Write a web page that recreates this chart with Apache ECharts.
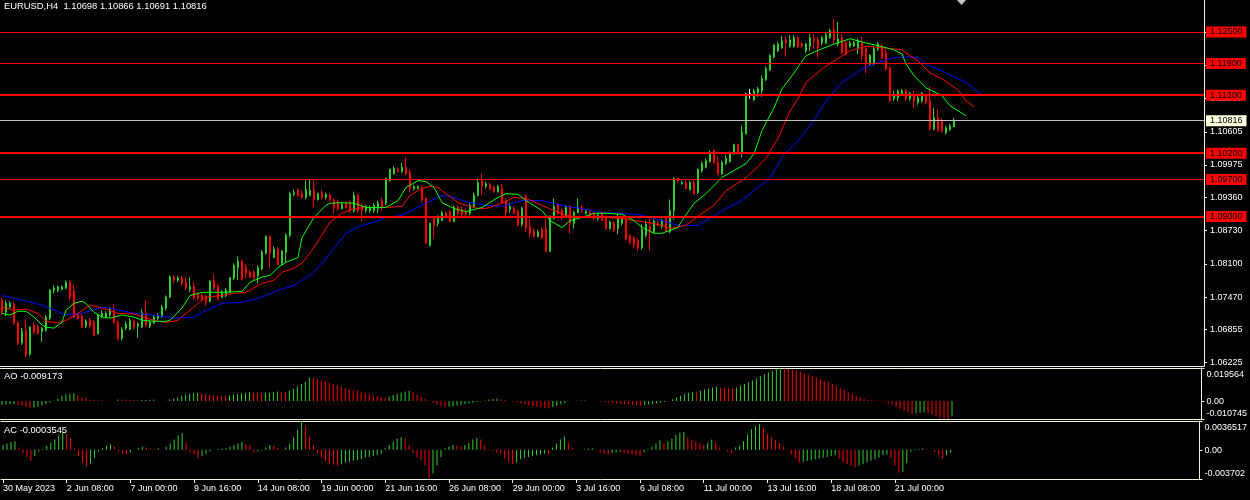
<!DOCTYPE html>
<html><head><meta charset="utf-8">
<script src="https://cdn.jsdelivr.net/npm/echarts@6/dist/echarts.min.js"></script>
<style>html,body{margin:0;padding:0;background:#000;}#c{width:1250px;height:500px;}</style>
</head><body><div id="c"></div>
<script>
// ---------- data ----------
const tickLabels = ['30 May 2023','2 Jun 08:00','7 Jun 00:00','9 Jun 16:00','14 Jun 08:00','19 Jun 00:00','21 Jun 16:00','26 Jun 08:00','29 Jun 00:00','3 Jul 16:00','6 Jul 08:00','11 Jul 00:00','13 Jul 16:00','18 Jul 08:00','21 Jul 00:00'];
const priceTicks = [1.06225,1.06855,1.0747,1.081,1.0873,1.0936,1.09975,1.10605,1.11235,1.11865,1.12495];
const levels = [1.125,1.119,1.113,1.102,1.097,1.09];
const levelWidths = [1,1,2,2,1,2];
const currentPrice = 1.10816;
const aoTicks = [0.019564, 0, -0.010745];
const acTicks = [0.0036517, 0, -0.003702];
// [open, high, low, close]
const candles = [
[1.0741,1.0745,1.0713,1.0718],[1.0718,1.0741,1.0711,1.0735],[1.0728,1.0739,1.0724,1.0735],[1.0733,1.0737,1.0694,1.0698],
[1.0698,1.0701,1.0656,1.0660],[1.0660,1.0688,1.0656,1.0682],[1.0684,1.0705,1.0633,1.0637],[1.0639,1.0692,1.0635,1.0690],
[1.0694,1.0698,1.0677,1.0681],[1.0690,1.0694,1.0675,1.0679],[1.0681,1.0690,1.0662,1.0688],[1.0684,1.0713,1.0681,1.0709],
[1.0707,1.0762,1.0703,1.0760],[1.0760,1.0769,1.0754,1.0764],[1.0760,1.0769,1.0756,1.0766],[1.0762,1.0769,1.0760,1.0766],
[1.0764,1.0779,1.0762,1.0775],[1.0775,1.0777,1.0741,1.0747],[1.0758,1.0771,1.0707,1.0709],[1.0713,1.0715,1.0703,1.0707],
[1.0711,1.0715,1.0688,1.0690],[1.0692,1.0705,1.0688,1.0701],[1.0703,1.0707,1.0688,1.0692],[1.0699,1.0703,1.0673,1.0675],
[1.0677,1.0715,1.0676,1.0713],[1.0711,1.0722,1.0707,1.0716],[1.0709,1.0720,1.0707,1.0716],[1.0713,1.0728,1.0709,1.0724],
[1.0722,1.0733,1.0697,1.0698],[1.0699,1.0703,1.0665,1.0669],[1.0669,1.0690,1.0665,1.0686],[1.0688,1.0701,1.0684,1.0696],
[1.0686,1.0707,1.0684,1.0703],[1.0701,1.0703,1.0686,1.0690],[1.0692,1.0699,1.0669,1.0696],[1.0690,1.0724,1.0688,1.0716],
[1.0716,1.0741,1.0690,1.0694],[1.0692,1.0703,1.0688,1.0699],[1.0698,1.0713,1.0696,1.0709],[1.0707,1.0716,1.0703,1.0713],
[1.0711,1.0732,1.0707,1.0728],[1.0726,1.0750,1.0722,1.0747],[1.0747,1.0788,1.0745,1.0785],[1.0785,1.0788,1.0773,1.0779],
[1.0779,1.0787,1.0775,1.0783],[1.0783,1.0787,1.0769,1.0773],[1.0775,1.0785,1.0760,1.0764],[1.0762,1.0785,1.0756,1.0767],
[1.0767,1.0775,1.0741,1.0745],[1.0752,1.0756,1.0741,1.0745],[1.0750,1.0754,1.0741,1.0743],[1.0747,1.0750,1.0731,1.0737],
[1.0739,1.0779,1.0737,1.0777],[1.0777,1.0790,1.0760,1.0764],[1.0767,1.0771,1.0741,1.0743],[1.0747,1.0760,1.0745,1.0756],
[1.0750,1.0764,1.0747,1.0760],[1.0756,1.0785,1.0754,1.0783],[1.0783,1.0811,1.0779,1.0807],[1.0803,1.0824,1.0779,1.0815],
[1.0815,1.0817,1.0779,1.0781],[1.0803,1.0809,1.0783,1.0792],[1.0794,1.0798,1.0783,1.0785],[1.0794,1.0798,1.0779,1.0783],
[1.0788,1.0807,1.0773,1.0803],[1.0800,1.0836,1.0798,1.0832],[1.0830,1.0864,1.0828,1.0862],[1.0862,1.0864,1.0802,1.0830],
[1.0822,1.0843,1.0821,1.0838],[1.0838,1.0841,1.0807,1.0809],[1.0811,1.0836,1.0807,1.0834],[1.0832,1.0868,1.0813,1.0864],
[1.0864,1.0947,1.0860,1.0943],[1.0942,1.0951,1.0938,1.0945],[1.0949,1.0953,1.0938,1.0940],[1.0943,1.0949,1.0934,1.0936],
[1.0936,1.0968,1.0932,1.0951],[1.0940,1.0970,1.0938,1.0949],[1.0951,1.0970,1.0917,1.0932],[1.0932,1.0945,1.0930,1.0943],
[1.0945,1.0949,1.0932,1.0936],[1.0936,1.0945,1.0932,1.0942],[1.0940,1.0943,1.0928,1.0932],[1.0930,1.0934,1.0906,1.0917],
[1.0928,1.0932,1.0911,1.0915],[1.0915,1.0926,1.0913,1.0923],[1.0925,1.0928,1.0915,1.0917],[1.0925,1.0930,1.0906,1.0911],
[1.0911,1.0947,1.0907,1.0940],[1.0940,1.0943,1.0907,1.0911],[1.0921,1.0925,1.0891,1.0911],[1.0911,1.0921,1.0907,1.0919],
[1.0911,1.0921,1.0907,1.0917],[1.0911,1.0925,1.0907,1.0921],[1.0915,1.0930,1.0906,1.0925],[1.0930,1.0936,1.0911,1.0917],
[1.0925,1.0974,1.0921,1.0972],[1.0968,1.0991,1.0966,1.0989],[1.0981,1.0995,1.0979,1.0991],[1.0989,1.0993,1.0983,1.0985],
[1.0985,1.1002,1.0983,1.0993],[1.0993,1.1012,1.0978,1.0981],[1.0983,1.0989,1.0945,1.0953],[1.0953,1.0960,1.0949,1.0957],
[1.0953,1.0958,1.0951,1.0957],[1.0955,1.0958,1.0926,1.0932],[1.0934,1.0936,1.0847,1.0849],[1.0845,1.0888,1.0843,1.0887],
[1.0896,1.0900,1.0860,1.0883],[1.0887,1.0902,1.0881,1.0896],[1.0892,1.0911,1.0891,1.0907],[1.0906,1.0909,1.0896,1.0900],
[1.0909,1.0913,1.0889,1.0891],[1.0891,1.0921,1.0889,1.0917],[1.0917,1.0921,1.0902,1.0907],[1.0913,1.0919,1.0900,1.0904],
[1.0909,1.0915,1.0898,1.0904],[1.0906,1.0925,1.0902,1.0921],[1.0919,1.0945,1.0917,1.0940],[1.0940,1.0972,1.0938,1.0964],
[1.0968,1.0981,1.0940,1.0957],[1.0957,1.0966,1.0953,1.0962],[1.0960,1.0964,1.0949,1.0953],[1.0955,1.0958,1.0945,1.0947],
[1.0947,1.0960,1.0945,1.0957],[1.0953,1.0962,1.0924,1.0926],[1.0930,1.0934,1.0896,1.0907],[1.0913,1.0925,1.0907,1.0919],
[1.0915,1.0919,1.0904,1.0906],[1.0909,1.0913,1.0881,1.0883],[1.0885,1.0919,1.0881,1.0915],[1.0938,1.0942,1.0870,1.0879],
[1.0881,1.0896,1.0860,1.0868],[1.0873,1.0877,1.0860,1.0862],[1.0862,1.0875,1.0860,1.0871],[1.0875,1.0879,1.0857,1.0860],
[1.0877,1.0896,1.0832,1.0834],[1.0834,1.0902,1.0832,1.0898],[1.0896,1.0934,1.0894,1.0919],[1.0921,1.0925,1.0902,1.0906],
[1.0911,1.0915,1.0894,1.0898],[1.0902,1.0921,1.0898,1.0917],[1.0917,1.0921,1.0868,1.0887],[1.0887,1.0911,1.0877,1.0907],
[1.0907,1.0934,1.0906,1.0917],[1.0917,1.0921,1.0907,1.0911],[1.0906,1.0913,1.0904,1.0909],[1.0907,1.0911,1.0896,1.0900],
[1.0906,1.0909,1.0894,1.0896],[1.0896,1.0906,1.0892,1.0902],[1.0906,1.0909,1.0891,1.0892],[1.0898,1.0902,1.0875,1.0877],
[1.0877,1.0892,1.0875,1.0889],[1.0887,1.0891,1.0870,1.0873],[1.0877,1.0906,1.0866,1.0896],[1.0887,1.0900,1.0883,1.0896],
[1.0896,1.0900,1.0855,1.0858],[1.0862,1.0866,1.0847,1.0851],[1.0858,1.0862,1.0840,1.0847],[1.0855,1.0858,1.0834,1.0841],
[1.0841,1.0885,1.0836,1.0875],[1.0864,1.0892,1.0860,1.0885],[1.0881,1.0896,1.0836,1.0870],[1.0870,1.0894,1.0868,1.0891],
[1.0887,1.0892,1.0881,1.0883],[1.0881,1.0896,1.0877,1.0892],[1.0896,1.0900,1.0870,1.0873],[1.0871,1.0932,1.0868,1.0911],
[1.0911,1.0975,1.0894,1.0972],[1.0972,1.0974,1.0964,1.0968],[1.0962,1.0968,1.0960,1.0964],[1.0964,1.0968,1.0951,1.0953],
[1.0951,1.0968,1.0949,1.0964],[1.0964,1.0968,1.0941,1.0943],[1.0945,1.0991,1.0943,1.0989],[1.0987,1.1004,1.0983,1.1000],
[1.0993,1.1010,1.0991,1.1006],[1.1004,1.1025,1.1002,1.1019],[1.1025,1.1027,1.1000,1.1002],[1.1002,1.1014,1.0978,1.0981],
[1.0981,1.1006,1.0979,1.1002],[1.1000,1.1016,1.0997,1.1010],[1.1004,1.1023,1.1002,1.1019],[1.1019,1.1038,1.1017,1.1036],
[1.1036,1.1038,1.1017,1.1019],[1.1019,1.1072,1.1012,1.1059],[1.1057,1.1135,1.1055,1.1133],[1.1133,1.1142,1.1123,1.1133],
[1.1121,1.1142,1.1119,1.1138],[1.1135,1.1146,1.1127,1.1142],[1.1138,1.1167,1.1127,1.1161],[1.1159,1.1184,1.1157,1.1180],
[1.1178,1.1208,1.1176,1.1205],[1.1203,1.1227,1.1199,1.1225],[1.1214,1.1231,1.1212,1.1227],[1.1220,1.1242,1.1218,1.1233],
[1.1235,1.1242,1.1203,1.1229],[1.1223,1.1244,1.1220,1.1235],[1.1223,1.1244,1.1220,1.1239],[1.1239,1.1242,1.1220,1.1222],
[1.1227,1.1231,1.1220,1.1223],[1.1214,1.1229,1.1210,1.1227],[1.1223,1.1246,1.1214,1.1239],[1.1237,1.1246,1.1218,1.1233],
[1.1235,1.1241,1.1201,1.1220],[1.1229,1.1242,1.1225,1.1239],[1.1229,1.1248,1.1227,1.1244],[1.1239,1.1256,1.1237,1.1252],
[1.1254,1.1275,1.1227,1.1235],[1.1227,1.1269,1.1223,1.1237],[1.1239,1.1246,1.1208,1.1210],[1.1229,1.1233,1.1205,1.1208],
[1.1223,1.1233,1.1220,1.1229],[1.1223,1.1233,1.1222,1.1229],[1.1220,1.1237,1.1208,1.1233],[1.1229,1.1241,1.1195,1.1205],
[1.1218,1.1222,1.1172,1.1189],[1.1189,1.1208,1.1186,1.1205],[1.1189,1.1222,1.1186,1.1218],[1.1218,1.1231,1.1214,1.1227],
[1.1223,1.1227,1.1199,1.1201],[1.1210,1.1218,1.1176,1.1180],[1.1182,1.1184,1.1117,1.1119],[1.1123,1.1138,1.1119,1.1129],
[1.1125,1.1140,1.1119,1.1138],[1.1133,1.1142,1.1129,1.1138],[1.1138,1.1142,1.1119,1.1123],[1.1123,1.1136,1.1119,1.1133],
[1.1129,1.1138,1.1106,1.1119],[1.1116,1.1133,1.1112,1.1125],[1.1119,1.1136,1.1116,1.1133],[1.1129,1.1133,1.1112,1.1116],
[1.1119,1.1146,1.1063,1.1066],[1.1066,1.1106,1.1063,1.1087],[1.1087,1.1104,1.1061,1.1063],[1.1082,1.1085,1.1059,1.1063],
[1.1059,1.1072,1.1055,1.1068],[1.1064,1.1076,1.1063,1.1072],[1.10698,1.10866,1.10691,1.10816]
];
// Alligator lines: [bar index, price]
const jaw = [[0,1.0750],[10,1.0732],[16,1.0713],[20,1.0716],[25,1.0728],[27,1.0726],[33,1.0716],[38,1.0713],[43,1.0707],[48,1.0709],[50,1.0718],[55,1.0735],[60,1.0737],[65,1.0747],[69,1.0760],[73,1.0769],[77,1.0788],[80,1.0811],[83,1.0839],[86,1.0868],[90,1.0883],[93,1.0889],[96,1.0898],[100,1.0902],[105,1.0921],[110,1.0940],[113,1.0936],[116,1.0928],[121,1.0921],[125,1.0919],[130,1.0930],[135,1.0930],[140,1.0921],[145,1.0915],[150,1.0907],[155,1.0906],[160,1.0902],[165,1.0892],[169,1.0883],[174,1.0883],[176,1.0892],[181,1.0915],[185,1.0930],[188,1.0949],[192,1.0972],[195,1.1012],[199,1.1044],[201,1.1063],[203,1.1082],[206,1.1119],[210,1.1154],[215,1.1180],[220,1.1195],[223,1.1201],[227,1.1203],[229,1.1201],[231,1.1189],[235,1.1176],[238,1.1165],[241,1.1154],[245,1.1129]];
const teeth = [[0,1.0728],[3,1.0722],[6,1.0724],[9,1.0716],[11,1.0701],[14,1.0698],[16,1.0703],[19,1.0716],[22,1.0732],[24,1.0728],[26,1.0724],[29,1.0716],[33,1.0715],[36,1.0707],[39,1.0701],[41,1.0699],[44,1.0703],[46,1.0716],[49,1.0735],[51,1.0747],[55,1.0750],[58,1.0754],[61,1.0756],[65,1.0773],[68,1.0779],[70,1.0794],[73,1.0802],[75,1.0811],[78,1.0841],[81,1.0877],[82,1.0889],[85,1.0906],[88,1.0915],[92,1.0917],[96,1.0917],[100,1.0919],[102,1.0940],[105,1.0953],[107,1.0957],[109,1.0955],[111,1.0943],[114,1.0926],[116,1.0921],[119,1.0915],[121,1.0915],[125,1.0925],[128,1.0936],[131,1.0934],[135,1.0921],[138,1.0911],[141,1.0902],[145,1.0898],[148,1.0900],[151,1.0898],[155,1.0896],[158,1.0892],[161,1.0889],[165,1.0883],[167,1.0877],[171,1.0883],[175,1.0906],[178,1.0921],[181,1.0949],[185,1.0968],[188,1.0987],[191,1.1010],[194,1.1048],[197,1.1100],[199,1.1123],[201,1.1154],[205,1.1180],[208,1.1195],[212,1.1214],[216,1.1223],[220,1.1220],[225,1.1216],[226,1.1210],[229,1.1195],[232,1.1172],[235,1.1161],[239,1.1140],[241,1.1119],[243,1.1108]];
const lips = [[0,1.0716],[2,1.0713],[4,1.0720],[6,1.0720],[8,1.0709],[10,1.0694],[11,1.0690],[13,1.0688],[15,1.0699],[16,1.0722],[18,1.0735],[20,1.0739],[21,1.0735],[23,1.0718],[25,1.0709],[27,1.0707],[30,1.0713],[33,1.0709],[35,1.0703],[38,1.0701],[41,1.0701],[42,1.0703],[45,1.0726],[47,1.0750],[50,1.0756],[56,1.0756],[60,1.0758],[62,1.0775],[65,1.0785],[67,1.0788],[69,1.0803],[71,1.0813],[74,1.0822],[75,1.0860],[78,1.0898],[81,1.0921],[82,1.0925],[85,1.0926],[88,1.0925],[91,1.0917],[96,1.0917],[99,1.0930],[101,1.0955],[104,1.0968],[106,1.0966],[108,1.0955],[110,1.0926],[113,1.0915],[116,1.0909],[120,1.0917],[124,1.0936],[126,1.0943],[129,1.0942],[131,1.0930],[135,1.0911],[137,1.0892],[140,1.0879],[142,1.0892],[145,1.0898],[148,1.0906],[151,1.0906],[155,1.0904],[158,1.0892],[160,1.0879],[163,1.0868],[165,1.0868],[169,1.0879],[170,1.0892],[173,1.0925],[176,1.0943],[180,1.0974],[183,1.0987],[186,1.1000],[188,1.1019],[190,1.1063],[193,1.1106],[195,1.1142],[198,1.1172],[201,1.1205],[205,1.1218],[208,1.1227],[212,1.1237],[216,1.1229],[220,1.1222],[223,1.1216],[225,1.1208],[226,1.1189],[228,1.1167],[231,1.1144],[235,1.1129],[237,1.1110],[241,1.1091]];
const aoValues = [-0.0024,-0.0022,-0.0020,-0.0018,-0.0022,-0.0028,-0.0036,-0.0042,-0.0040,-0.0034,-0.0026,-0.0018,-0.0010,0.0002,0.0015,0.0030,0.0040,0.0044,0.0046,0.0034,
0.0022,0.0014,0.0009,0.0006,0.0004,0.0003,0.0001,0.0000,0.0000,0.0009,0.0008,0.0007,0.0006,0.0005,0.0004,0.0005,0.0006,0.0007,0.0008,0.0000,
0.0000,0.0001,0.0008,0.0014,0.0020,0.0030,0.0038,0.0042,0.0046,0.0048,0.0044,0.0040,0.0037,0.0034,0.0032,0.0030,0.0029,0.0033,0.0037,0.0041,
0.0045,0.0048,0.0051,0.0049,0.0047,0.0045,0.0047,0.0050,0.0053,0.0056,0.0054,0.0052,0.0060,0.0073,0.0086,0.0100,0.0114,0.0139,0.0136,0.0130,
0.0123,0.0116,0.0108,0.0100,0.0092,0.0084,0.0077,0.0070,0.0064,0.0058,0.0052,0.0046,0.0040,0.0034,0.0029,0.0024,0.0020,0.0026,0.0035,0.0043,
0.0050,0.0056,0.0060,0.0050,0.0036,0.0024,0.0012,0.0002,-0.0010,-0.0022,-0.0032,-0.0038,-0.0035,-0.0031,-0.0027,-0.0023,-0.0019,-0.0015,-0.0011,-0.0007,
-0.0003,0.0003,0.0008,0.0012,0.0014,0.0010,0.0005,0.0000,-0.0003,-0.0008,-0.0014,-0.0020,-0.0026,-0.0031,-0.0035,-0.0039,-0.0042,-0.0043,-0.0036,-0.0028,
-0.0020,-0.0012,-0.0002,0.0000,0.0001,0.0002,0.0003,0.0000,0.0000,0.0000,-0.0003,-0.0006,-0.0009,-0.0012,-0.0015,-0.0018,-0.0020,-0.0022,-0.0024,-0.0026,
-0.0027,-0.0024,-0.0021,-0.0018,-0.0015,-0.0011,-0.0006,0.0000,0.0010,0.0020,0.0030,0.0040,0.0048,0.0054,0.0050,0.0060,0.0068,0.0074,0.0080,0.0084,
0.0080,0.0078,0.0076,0.0075,0.0080,0.0090,0.0101,0.0111,0.0121,0.0133,0.0146,0.0158,0.0169,0.0179,0.0188,0.019564,0.0193,0.0190,0.0185,0.0180,
0.0173,0.0165,0.0157,0.0148,0.0140,0.0130,0.0120,0.0110,0.0100,0.0088,0.0076,0.0064,0.0052,0.0040,0.0030,0.0020,0.0012,0.0005,0.0003,0.0002,
0.0001,-0.0005,-0.0012,-0.0022,-0.0034,-0.0046,-0.0058,-0.0068,-0.0078,-0.0074,-0.0070,-0.0068,-0.0074,-0.0082,-0.0090,-0.0098,-0.0104,-0.010745,-0.009173];
const acValues = [0.0006,0.0008,0.0010,0.0011,0.0003,-0.0004,-0.0009,-0.0014,-0.0008,-0.0002,0.0001,0.0005,0.0009,0.0013,0.0018,0.0023,0.0020,0.0014,0.0002,-0.0008,
-0.0016,-0.0021,-0.0018,-0.0010,-0.0002,0.0002,0.0005,0.0007,0.0004,-0.0002,-0.0005,-0.0006,-0.0003,0.0000,0.0002,0.0004,0.0003,0.0002,0.0001,0.0002,
0.0000,0.0004,0.0008,0.0013,0.0018,0.0021,0.0009,-0.0003,-0.0006,-0.0010,-0.0008,-0.0005,-0.0002,0.0000,0.0001,0.00015,0.0002,0.0004,0.0006,0.0008,
0.0010,0.0007,0.0006,-0.0003,-0.0002,-0.0001,0.0003,0.0006,0.0005,0.0002,-0.0001,0.0003,0.0008,0.0016,0.0025,0.0036517,0.0030,0.0017,0.0006,-0.0004,
-0.0010,-0.0014,-0.0017,-0.0019,-0.0020,-0.0018,-0.0016,-0.0015,-0.0014,-0.0013,-0.0012,-0.0010,-0.0009,-0.0008,-0.0007,-0.0005,0.0002,0.0006,0.0010,0.0014,
0.0016,0.0014,0.0006,-0.0004,-0.0009,-0.0013,-0.0020,-0.003702,-0.0030,-0.0020,-0.0009,0.0002,0.0004,0.0006,0.0005,0.0004,0.0006,0.0009,0.0013,0.0015,
0.0013,0.0005,0.0001,-0.0001,-0.0003,-0.0005,-0.0011,-0.0015,-0.0018,-0.0016,-0.0012,-0.0010,-0.0009,-0.0008,-0.0007,-0.0006,-0.0005,-0.0006,0.0003,0.0008,
0.0013,0.0017,0.0009,0.0002,0.0000,0.00005,0.0001,0.00015,0.0002,-0.0001,-0.0003,-0.0005,-0.0006,-0.0004,-0.0003,-0.0002,-0.0004,-0.0005,-0.0006,-0.0007,
-0.0008,-0.0003,0.0001,0.0004,0.0008,0.0012,0.0008,0.0011,0.0014,0.0019,0.0022,0.0023,0.0015,0.0012,0.0010,0.0008,0.0006,0.0009,0.0013,0.0009,
0.0003,0.0000,-0.0002,-0.0004,0.0003,0.0005,0.0011,0.0019,0.0026,0.0030,0.0033,0.0028,0.0020,0.0016,0.0012,0.0009,0.0004,-0.0001,-0.0006,-0.0011,
-0.0016,-0.0015,-0.0014,-0.0013,-0.0012,-0.0011,-0.0010,-0.0009,-0.0008,-0.0007,-0.0011,-0.0015,-0.0018,-0.0020,-0.0022,-0.0020,-0.0018,-0.0016,-0.0014,-0.0012,
-0.0010,-0.0007,-0.0006,-0.0010,-0.0020,-0.0029,-0.0028,-0.0017,-0.0002,-0.0001,0.0001,0.0002,0.0001,0.0000,-0.0003,-0.0007,-0.0011,-0.0007,-0.0003545];

// ---------- chart ----------
const FONT = '"Liberation Sans", Arial, sans-serif';
const FG = '#F2F2DC';
const UP = '#32CD32', DOWN = '#FF0000';
const SLOTS = 301, BARS_PER_LABEL = 16;
const cats = Array.from({length: SLOTS}, (_, i) => String(i));
const labelAt = i => (i % BARS_PER_LABEL === 0 && i / BARS_PER_LABEL < tickLabels.length);
const frameLine = { show: true, onZero: false, lineStyle: { color: FG, width: 1 } };

function histo(vals) {
  return vals.map((v, i) => ({
    value: v,
    itemStyle: { color: (i === 0 || v > vals[i - 1]) ? UP : DOWN }
  }));
}
function xAxisFor(gi, show, position) {
  return {
    type: 'category', gridIndex: gi, data: cats, boundaryGap: true, position: position || 'bottom',
    axisLine: frameLine,
    axisTick: show ? { show: true, alignWithLabel: true, length: 4, lineStyle: { color: FG }, interval: (i) => labelAt(i) } : { show: false },
    axisLabel: show ? {
      show: true, interval: (i) => labelAt(i), align: 'left', margin: 5,
      color: '#FFFFFF', fontSize: 9, fontFamily: FONT,
      formatter: (v, i) => tickLabels[i / BARS_PER_LABEL]
    } : { show: false },
    splitLine: { show: false }
  };
}
function subYAxis(gi, ticks) {
  return {
    type: 'value', gridIndex: gi, position: 'right', min: ticks[2], max: ticks[0],
    axisLine: frameLine,
    splitLine: { show: false },
    axisTick: { show: true, length: 3, lineStyle: { color: FG }, customValues: ticks },
    axisLabel: {
      show: true, customValues: ticks, margin: 5, color: '#FFFFFF', fontSize: 9, fontFamily: FONT,
      formatter: v => v === 0 ? '{m|0.00}' : (v > 0 ? '{t|' + String(v) + '}' : '{b|' + String(v) + '}'),
      rich: {
        t: { padding: [14, 0, 0, 0], color: '#FFFFFF', fontSize: 9, fontFamily: FONT },
        m: { padding: [2, 0, 0, 0], color: '#FFFFFF', fontSize: 9, fontFamily: FONT },
        b: { padding: [0, 0, 11, 0], color: '#FFFFFF', fontSize: 9, fontFamily: FONT }
      }
    }
  };
}

const levelMarks = levels.map((v, k) => ({
  yAxis: v,
  lineStyle: { color: '#FF0000', width: levelWidths[k], type: 'solid' },
  label: {
    show: true, position: 'end', distance: 2, formatter: () => v.toFixed(5),
    backgroundColor: '#FF0000', color: '#000000', padding: [1, 4, 1, 4],
    fontSize: 9, fontFamily: FONT
  }
}));
levelMarks.push({
  yAxis: currentPrice,
  lineStyle: { color: '#C0C0C0', width: 1, type: 'solid' },
  label: {
    show: true, position: 'end', distance: 2, formatter: () => currentPrice.toFixed(5),
    backgroundColor: '#FFFFE0', color: '#000000', padding: [1, 4, 1, 4],
    fontSize: 9, fontFamily: FONT
  }
});

const chart = echarts.init(document.getElementById('c'), null, { renderer: 'canvas' });
chart.setOption({
  backgroundColor: '#000000',
  animation: false,
  title: [
    { text: 'EURUSD,H4  1.10698 1.10866 1.10691 1.10816', left: 4, top: 2, padding: 0,
      textStyle: { color: '#FFFFFF', fontSize: 9.4, fontWeight: 'normal', fontFamily: FONT } },
    { text: 'AO -0.009173', left: 4, top: 372, padding: 0,
      textStyle: { color: '#FFFFFF', fontSize: 9.4, fontWeight: 'normal', fontFamily: FONT } },
    { text: 'AC -0.0003545', left: 4, top: 426, padding: 0,
      textStyle: { color: '#FFFFFF', fontSize: 9.4, fontWeight: 'normal', fontFamily: FONT } }
  ],
  grid: [
    { left: -1, top: -1, width: 1205, height: 367, show: false },
    { left: -1, top: 368, width: 1205, height: 51, show: false },
    { left: -1, top: 421, width: 1205, height: 58, show: false }
  ],
  xAxis: [
    xAxisFor(0, false), xAxisFor(1, false), xAxisFor(2, true),
    xAxisFor(1, false, 'top'), xAxisFor(2, false, 'top')
  ],
  yAxis: [
    {
      type: 'value', gridIndex: 0, position: 'right', min: 1.06162, max: 1.13105,
      axisLine: frameLine, splitLine: { show: false },
      axisTick: { show: true, length: 3, lineStyle: { color: FG }, customValues: priceTicks },
      axisLabel: { show: true, customValues: priceTicks, margin: 6, color: '#FFFFFF', fontSize: 9, fontFamily: FONT,
        formatter: v => v.toFixed(5) }
    },
    subYAxis(1, aoTicks),
    subYAxis(2, acTicks)
  ],
  graphic: [
    { type: 'polygon', shape: { points: [[957, 0], [966, 0], [961.5, 5]] }, style: { fill: '#C8C8C8' }, silent: true }
  ],
  series: [
    {
      type: 'line', xAxisIndex: 0, yAxisIndex: 0, data: [], showSymbol: false, silent: true,
      markLine: { symbol: ['none', 'none'], silent: true, animation: false, precision: 5, data: levelMarks }
    },
    {
      type: 'candlestick', xAxisIndex: 0, yAxisIndex: 0, barWidth: 2,
      data: candles.map(c => [c[0], c[3], c[2], c[1]]),
      itemStyle: { color: UP, color0: DOWN, borderColor: UP, borderColor0: DOWN, borderColorDoji: '#FFFFFF', borderWidth: 1 }
    },
    { type: 'line', xAxisIndex: 0, yAxisIndex: 0, data: jaw, showSymbol: false, lineStyle: { color: '#0000FF', width: 1 }, z: 3 },
    { type: 'line', xAxisIndex: 0, yAxisIndex: 0, data: teeth, showSymbol: false, lineStyle: { color: '#FF0000', width: 1 }, z: 3 },
    { type: 'line', xAxisIndex: 0, yAxisIndex: 0, data: lips, showSymbol: false, lineStyle: { color: '#00FF00', width: 1 }, z: 3 },
    { type: 'bar', xAxisIndex: 1, yAxisIndex: 1, barWidth: 1, data: histo(aoValues) },
    { type: 'bar', xAxisIndex: 2, yAxisIndex: 2, barWidth: 1, data: histo(acValues) }
  ]
});
</script>
</body></html>
